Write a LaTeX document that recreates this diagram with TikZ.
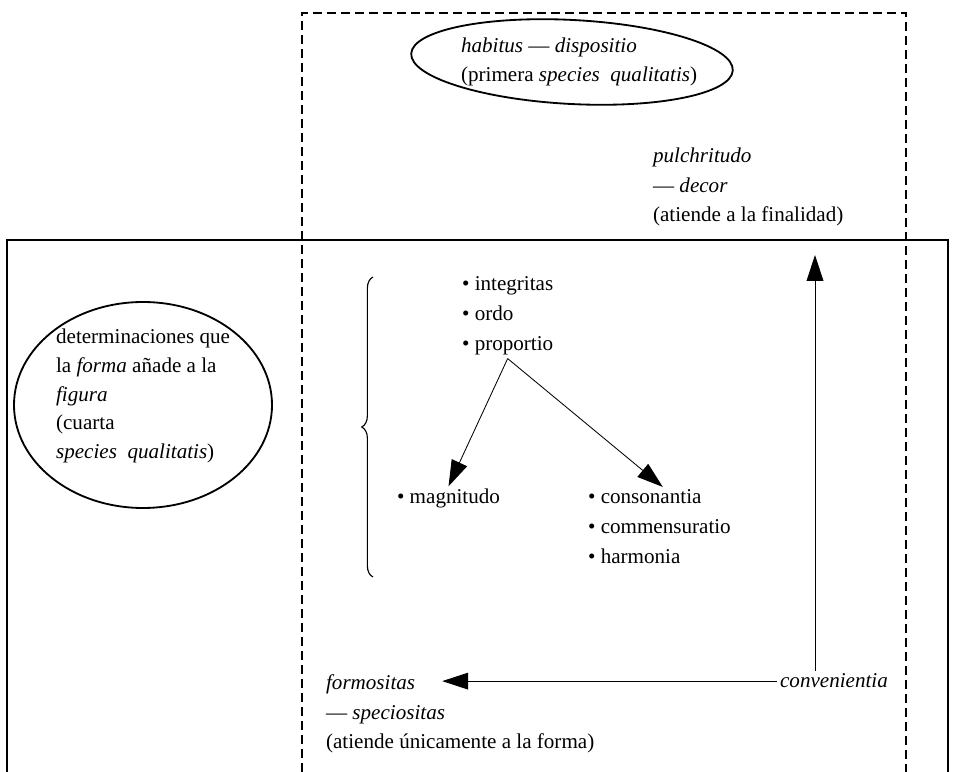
\documentclass[tikz,border=0pt]{standalone}
\usepackage{fontspec}
\setmainfont{Liberation Serif}
\usetikzlibrary{positioning, calc}
\usetikzlibrary{arrows.meta,decorations.pathreplacing}

\begin{document}
\begin{tikzpicture}[x=0.25mm, y=-0.25mm,
    every node/.style={font=\fontsize{15}{21}\selectfont, inner sep=2pt},
    lbl/.style={anchor=base west},
    blk/.style={anchor=west, align=left},
    tip/.style={-{Triangle[length=6.5mm, width=4.2mm]}, line width=0.6pt}]
\useasboundingbox (0,0) rectangle (955,772);

% the two frames (both run off the bottom)
\draw[line width=1.5pt, dash pattern=on 2.2mm off 1.3mm] (302,772) -- (302,13) -- (906,13) -- (906,772);
\draw[line width=1.8pt] (7,772) -- (7,240) -- (948,240) -- (948,772);

\node[blk] (habitus) at (458,62) {\textit{habitus} --- \textit{dispositio}\\(primera \textit{species\ \ qualitatis})};
\draw[line width=1.3pt, rotate around={-3:(572,62)}] (572,62) ellipse [x radius=161, y radius=42];

\node[blk] (pulchritudo) at (650,187) {\textit{pulchritudo}\\--- \textit{decor}\\(atiende a la finalidad)};

\node[blk, font=\fontsize{15}{20.3}\selectfont] (determ) at (53,396)
    {determinaciones que\\la \textit{forma} añade a la\\\textit{figura}\\(cuarta\\\textit{species\ \ qualitatis})};
\draw[line width=1.3pt] (143,405) ellipse [x radius=129, y radius=103];

\draw[line width=0.8pt, decorate, decoration={brace, amplitude=8}] (373,577) -- (373,277);

\node[lbl] (integritas) at (459,291) {\textbullet{} integritas};
\node[lbl] (ordo) at (459,321) {\textbullet{} ordo};
\node[lbl] (proportio) at (459,351) {\textbullet{} proportio};

\node[lbl] (magnitudo) at (394,504) {\textbullet{} magnitudo};
\node[lbl] (consonantia) at (585,504) {\textbullet{} consonantia};
\node[lbl] (commensuratio) at (585,534) {\textbullet{} commensuratio};
\node[lbl] (harmonia) at (585,564) {\textbullet{} harmonia};

\node[lbl] (formositas) at (323,690) {\textit{formositas}};
\node[lbl] (speciositas) at (323,720) {--- \textit{speciositas}};
\node[lbl] (atiende) at (323,749) {(atiende únicamente a la forma)};

\node[lbl] (convenientia) at (777,688) {\textit{convenientia}};
\coordinate (apex) at (815,255);

\path[tip]
    (proportio.south) edge (magnitudo.north)
    (proportio.south) edge ([xshift=4.5mm]consonantia.north)
    (convenientia.north -| apex) edge (apex)
    (convenientia.west) edge[shorten >=6mm] (formositas.east |- convenientia.west);
\end{tikzpicture}
\end{document}
